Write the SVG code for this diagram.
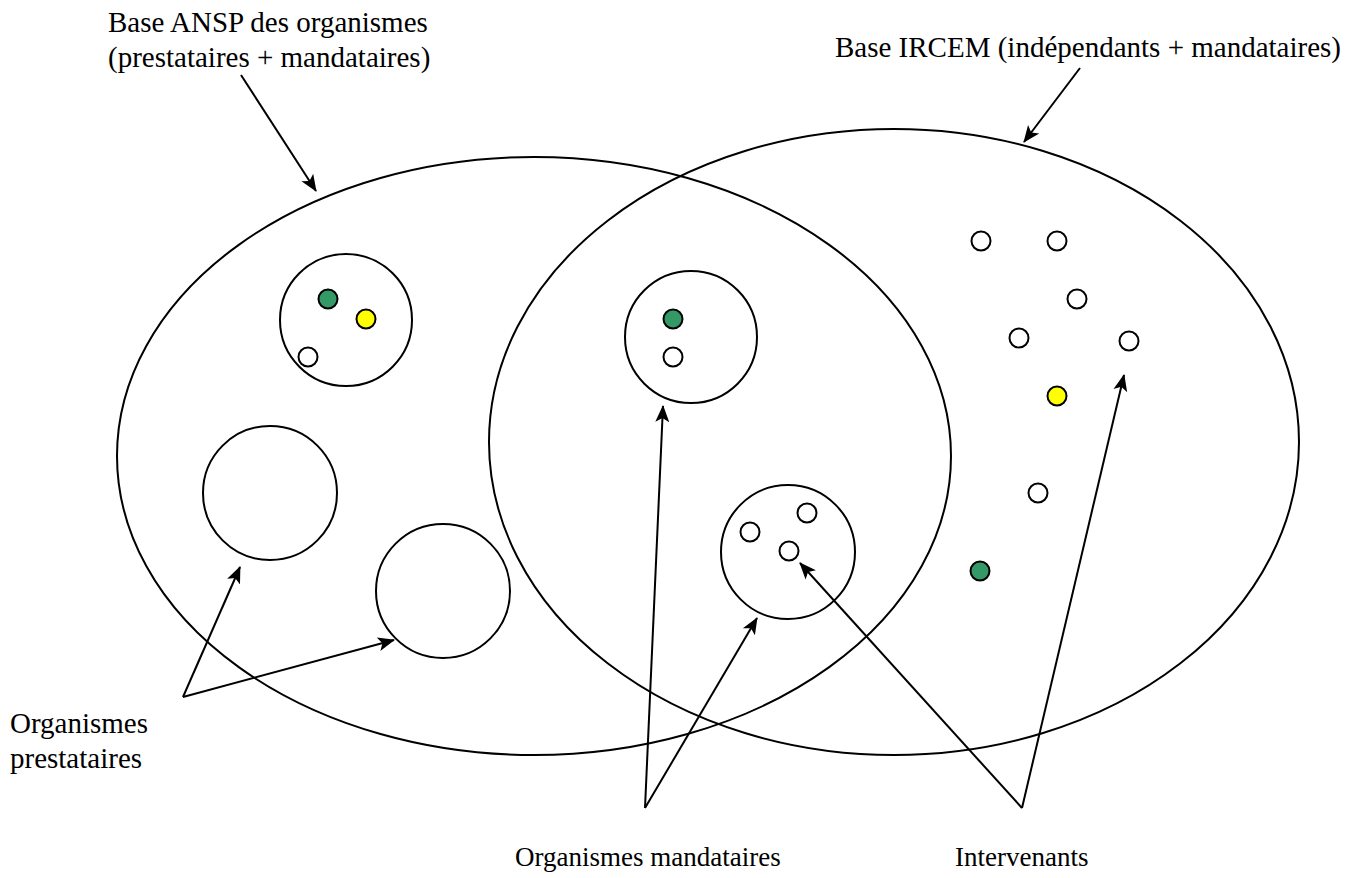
<svg xmlns="http://www.w3.org/2000/svg" width="1364" height="878" viewBox="0 0 1364 878">
<style>
.outline{fill:none;stroke:#000;stroke-width:2}
.org{fill:#fff;stroke:#000;stroke-width:2}
.dot{stroke:#000;stroke-width:2}
.w{fill:#fff}.g{fill:#339966}.y{fill:#ffff00}
.conn{stroke:#000;stroke-width:2;fill:none;marker-end:url(#ah)}
.lbl{font-family:"Liberation Serif","Times New Roman",serif;font-size:29px;fill:#000}
.sm{font-size:27px}
</style>
<defs>
<marker id="ah" markerUnits="userSpaceOnUse" markerWidth="20" markerHeight="16" refX="16" refY="7" orient="auto" viewBox="0 0 20 14">
<path d="M0,0 L17,7 L0,14 L4,7 Z" fill="#000"/>
</marker>
</defs>
<rect width="1364" height="878" fill="#fff"/>
<g id="base-ansp"><ellipse class="outline" cx="534" cy="456" rx="417" ry="299"/></g>
<g id="base-ircem"><ellipse class="outline" cx="894" cy="442" rx="405" ry="313"/></g>
<g id="org-a"><circle class="org" cx="346" cy="320" r="66"/>
<circle class="dot g" cx="328" cy="299" r="9.5"/><circle class="dot y" cx="366" cy="319" r="9.5"/><circle class="dot w" cx="308" cy="357" r="9.5"/></g>
<g id="org-b"><circle class="org" cx="691" cy="337" r="66"/>
<circle class="dot g" cx="673" cy="319" r="9.5"/><circle class="dot w" cx="673" cy="357" r="9.5"/></g>
<g id="org-c"><circle class="org" cx="788" cy="552" r="67"/>
<circle class="dot w" cx="750" cy="532" r="9.5"/><circle class="dot w" cx="807" cy="513" r="9.5"/><circle class="dot w" cx="789" cy="551" r="9.5"/></g>
<g id="org-d"><circle class="org" cx="270" cy="493" r="67"/></g>
<g id="org-e"><circle class="org" cx="443" cy="591" r="67"/></g>
<g id="intervenants-ircem">
<circle class="dot w" cx="981" cy="241" r="9.5"/><circle class="dot w" cx="1057" cy="241" r="9.5"/><circle class="dot w" cx="1077" cy="299" r="9.5"/><circle class="dot w" cx="1019" cy="338" r="9.5"/><circle class="dot w" cx="1129" cy="341" r="9.5"/><circle class="dot y" cx="1057" cy="396" r="9.5"/><circle class="dot w" cx="1038" cy="493" r="9.5"/><circle class="dot g" cx="980" cy="571" r="9.5"/>
</g>
<g id="connectors">
<line class="conn" x1="241" y1="75" x2="316" y2="191"/>
<line class="conn" x1="1080" y1="68" x2="1024" y2="142"/>
<line class="conn" x1="183" y1="697" x2="240" y2="567"/>
<line class="conn" x1="183" y1="697" x2="394" y2="640"/>
<line class="conn" x1="645" y1="808" x2="663" y2="406"/>
<line class="conn" x1="645" y1="808" x2="757" y2="618"/>
<line class="conn" x1="1022" y1="808" x2="800" y2="563"/>
<line class="conn" x1="1022" y1="808" x2="1124" y2="375"/>
</g>
<g id="labels">
<text class="lbl" x="108" y="32">Base ANSP des organismes</text>
<text class="lbl" x="108" y="67">(prestataires + mandataires)</text>
<text class="lbl" x="835" y="57">Base IRCEM (indépendants + mandataires)</text>
<text class="lbl" x="10" y="733">Organismes</text>
<text class="lbl" x="10" y="768">prestataires</text>
<text class="lbl sm" x="515" y="866">Organismes mandataires</text>
<text class="lbl sm" x="955" y="866">Intervenants</text>
</g>
</svg>
